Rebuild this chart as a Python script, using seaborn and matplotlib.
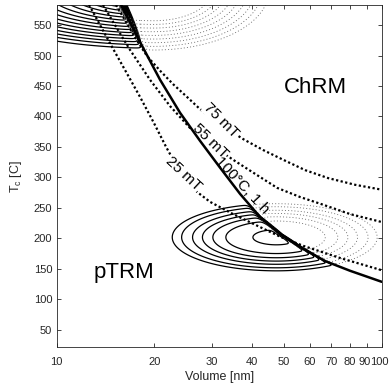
import numpy as np
import matplotlib
matplotlib.use('Agg')
import matplotlib.pyplot as plt
from matplotlib.ticker import NullLocator
from matplotlib.transforms import ScaledTranslation
import seaborn as sns

sns.set_theme(style='ticks')
plt.rcParams['font.family'] = ['Liberation Sans', 'DejaVu Sans']

# --- curves (volume in nm, Tc in C) ---
heat_V = [15.8, 18.07, 20.83, 23.99, 27.64, 31.85, 36.7, 42.3, 48.7, 56.1, 67.0, 80.0, 100]
heat_T = [583, 522, 460, 406, 360, 316, 273, 235, 207, 186, 163, 147, 129]

af25_V = [12.59, 13.61, 14.82, 16.25, 18.07, 19.95, 21.73, 23.99, 26.49, 29.67, 34.93, 41.4,
          48.7, 57.35, 74.5, 100]
af25_T = [583, 550, 514, 476, 432, 389, 350, 309, 280, 260, 240, 221, 203, 188, 168, 148]

af55_V = [13.9, 15.24, 16.84, 19.4, 22.35, 25.75, 29.67, 34.93, 40.8, 47.7, 56.1, 64.7, 80.0, 100]
af55_T = [583, 547, 509, 460, 417, 381, 355, 329, 306, 283, 268, 257, 240, 227]

af75_V = [15.24, 16.36, 17.56, 18.99, 20.83, 22.83, 25.2, 27.64, 32.08, 37.49, 43.2, 49.8,
          58.2, 68.45, 82.9, 100]
af75_T = [583, 555, 527, 499, 475, 453, 432, 412, 386, 363, 345, 329, 312, 299, 288, 280]

# --- grain distributions: centre (log10 V, Tc) and spread (left/right in log10 V, Tc) ---
low_centre = (1.676, 202)
low_spread = (0.16, 0.155, 27.5)
low_radii_solid = [0.45, 0.97, 1.22, 1.42, 1.61, 1.82, 2.0]
low_radii_dot = [0.97, 1.22, 1.42, 1.61, 1.82, 2.0]

top_centre = (1.30, 605)
top_spread = (0.20, 0.11, 30)
top_radii_solid = [1.0, 1.16, 1.32, 1.48, 1.64, 1.8, 1.96, 2.12, 2.28, 2.44, 2.6, 2.76, 2.92, 3.1]
top_radii_dot = [1.6, 1.8, 2.0, 2.2, 2.4, 2.6, 2.8, 3.0, 3.2]

# grid for the contour fields
lv = np.linspace(1, 2, 900)
tc = np.linspace(0, 700, 1400)
LV, TC = np.meshgrid(lv, tc)

# blocked (pTRM) side is left of the 100C / 1 h line
line_lv = np.interp(TC, heat_T[::-1], np.log10(heat_V)[::-1])
w = 1 / (1 + np.exp((LV - line_lv) / 0.004))


def gauss(c, s):
    sv = np.where(LV < c[0], s[0], s[1])
    return np.exp(-0.5 * (((LV - c[0]) / sv) ** 2 + ((TC - c[1]) / s[2]) ** 2))


def levels(radii):
    return np.sort(np.exp(-0.5 * np.array(radii) ** 2))


g_low = gauss(low_centre, low_spread)
g_top = gauss(top_centre, top_spread)

fig = plt.figure(figsize=(3.89, 3.90), dpi=100)
ax = fig.add_axes([56.5 / 389, 43 / 390, 325.2 / 389, 342 / 390])
ax.set_xscale('log')

X = 10 ** LV
for g, rs, rd in [(g_low, low_radii_solid, low_radii_dot), (g_top, top_radii_solid, top_radii_dot)]:
    ax.contour(X, TC, g * w, levels=levels(rs), colors='black', linewidths=0.9,
               linestyles='solid', zorder=2)
    cs = ax.contour(X, TC, g * (1 - w), levels=levels(rd), colors='0.4', linewidths=0.6,
                    linestyles='dotted', zorder=2)
    cs.set_linestyle((0, (1.2, 2.6)))

# AF demagnetisation curves and the heating line
for vv, tt in [(af25_V, af25_T), (af55_V, af55_T), (af75_V, af75_T)]:
    sns.lineplot(x=vv, y=tt, ax=ax, color='black', lw=1.6, linestyle=(0, (1, 1.1)),
                 estimator=None, sort=False, zorder=3)
sns.lineplot(x=heat_V, y=heat_T, ax=ax, color='black', lw=1.8, estimator=None,
             sort=False, zorder=5)

lab = dict(ha='center', va='center', fontsize=11, rotation_mode='anchor', zorder=4,
           color='black', bbox=dict(facecolor='white', edgecolor='none', pad=0.3))
ax.text(32.08, 393, '75 mT', rotation=-45, **lab)
ax.text(29.67, 360, '55 mT', rotation=-44, **lab)
ax.text(24.5, 306, '25 mT', rotation=-43, **lab)
ax.text(37.2, 288, '100°C, 1 h', rotation=-47, ha='center', va='center', fontsize=11,
        rotation_mode='anchor', zorder=4, color='black')

ax.text(62.4, 447, 'ChRM', fontsize=16, ha='center', va='center', color='black')
ax.text(16.1, 145, 'pTRM', fontsize=16, ha='center', va='center', color='black')

ax.set_xlim(10, 100)
ax.set_ylim(22.1, 582.8)
xt = [10, 20, 30, 40, 50, 60, 70, 80, 90, 100]
ax.set_xticks(xt)
ax.set_xticklabels([str(v) for v in xt])
ax.xaxis.set_minor_locator(NullLocator())
ax.set_yticks(range(50, 551, 50))
ax.tick_params(direction='in', top=True, right=True, length=3, width=0.6,
               colors='#262626', labelsize=8)
ax.tick_params(axis='x', pad=7)
ax.tick_params(axis='y', pad=3)
for s in ax.spines.values():
    s.set_linewidth(0.6)
    s.set_color('#262626')

# the last two tick labels sit tight together at the right edge, as in the original
for lbl, dx in zip(ax.get_xticklabels()[-2:], [-1.6, -1.6]):
    lbl.set_transform(lbl.get_transform() + ScaledTranslation(dx / 72, 0, fig.dpi_scale_trans))

ax.set_xlabel('Volume [nm]', fontsize=9, color='#262626', labelpad=3)
ax.set_ylabel(r'T$_{\mathregular{c}}$ [C]', fontsize=9, color='#262626', labelpad=7)

fig.savefig('out.png', dpi=100)
